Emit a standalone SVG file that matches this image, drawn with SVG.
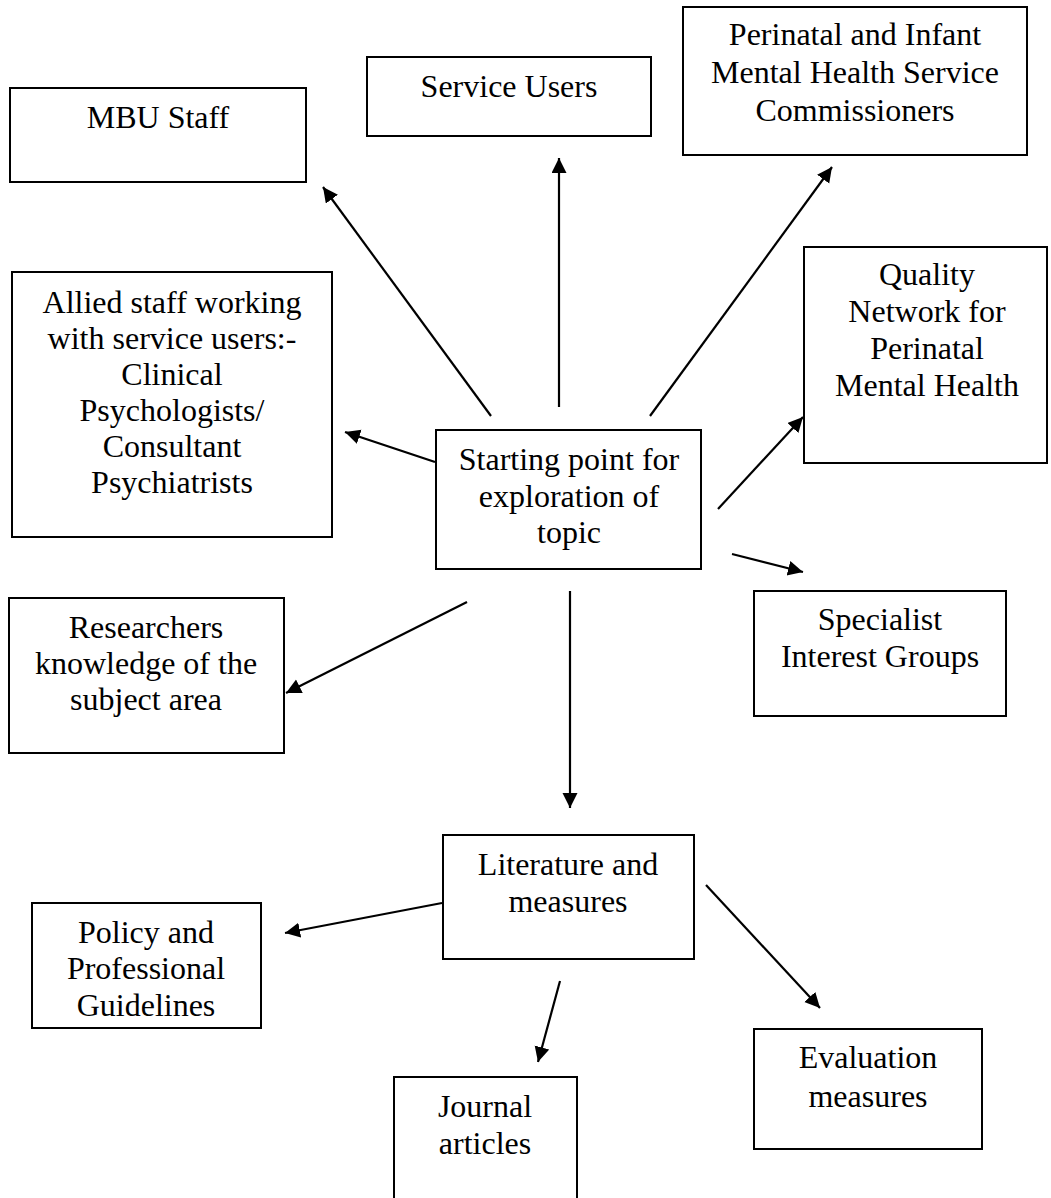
<svg xmlns="http://www.w3.org/2000/svg" width="1051" height="1198" viewBox="0 0 1051 1198">
<style>
.box{fill:#fff;stroke:#000;stroke-width:2}
.t{font-family:"Liberation Serif","Times New Roman",serif;font-size:32px;fill:#000;text-anchor:middle}
.c{stroke:#000;stroke-width:2.2;fill:none;marker-end:url(#ah)}
</style>
<defs>
<marker id="ah" markerUnits="userSpaceOnUse" markerWidth="16" markerHeight="16" refX="15" refY="7.5" orient="auto">
<path d="M0,0 L15,7.5 L0,15 z" fill="#000"/>
</marker>
</defs>
<rect width="1051" height="1198" fill="#fff"/>
<g id="connectors">
<line class="c" x1="491" y1="416" x2="323" y2="187"/>
<line class="c" x1="559" y1="407" x2="559" y2="158"/>
<line class="c" x1="650" y1="416" x2="832" y2="167"/>
<line class="c" x1="435" y1="462" x2="345" y2="432"/>
<line class="c" x1="718" y1="509" x2="803" y2="417"/>
<line class="c" x1="732" y1="554" x2="803" y2="572"/>
<line class="c" x1="467" y1="602" x2="286" y2="693"/>
<line class="c" x1="570" y1="591" x2="570" y2="808"/>
<line class="c" x1="442" y1="903" x2="285" y2="933"/>
<line class="c" x1="706" y1="885" x2="820" y2="1008"/>
<line class="c" x1="560" y1="981" x2="538" y2="1062"/>
</g>
<g id="mbu-staff">
<rect class="box" x="10" y="88" width="296" height="94"/>
<text class="t" x="158" y="128">MBU Staff</text>
</g>
<g id="service-users">
<rect class="box" x="367" y="57" width="284" height="79"/>
<text class="t" x="509" y="97">Service Users</text>
</g>
<g id="commissioners">
<rect class="box" x="683" y="7" width="344" height="148"/>
<text class="t" x="855" y="45">Perinatal and Infant</text>
<text class="t" x="855" y="83">Mental Health Service</text>
<text class="t" x="855" y="121">Commissioners</text>
</g>
<g id="allied-staff">
<rect class="box" x="12" y="272" width="320" height="265"/>
<text class="t" x="172" y="313">Allied staff working</text>
<text class="t" x="172" y="349">with service users:-</text>
<text class="t" x="172" y="385">Clinical</text>
<text class="t" x="172" y="421">Psychologists/</text>
<text class="t" x="172" y="457">Consultant</text>
<text class="t" x="172" y="493">Psychiatrists</text>
</g>
<g id="quality-network">
<rect class="box" x="804" y="247" width="243" height="216"/>
<text class="t" x="927" y="285">Quality</text>
<text class="t" x="927" y="322">Network for</text>
<text class="t" x="927" y="359">Perinatal</text>
<text class="t" x="927" y="396">Mental Health</text>
</g>
<g id="starting-point">
<rect class="box" x="436" y="430" width="265" height="139"/>
<text class="t" x="569" y="470">Starting point for</text>
<text class="t" x="569" y="507">exploration of</text>
<text class="t" x="569" y="543">topic</text>
</g>
<g id="specialist-groups">
<rect class="box" x="754" y="591" width="252" height="125"/>
<text class="t" x="880" y="630">Specialist</text>
<text class="t" x="880" y="667">Interest Groups</text>
</g>
<g id="researchers">
<rect class="box" x="9" y="598" width="275" height="155"/>
<text class="t" x="146" y="638">Researchers</text>
<text class="t" x="146" y="674">knowledge of the</text>
<text class="t" x="146" y="710">subject area</text>
</g>
<g id="literature">
<rect class="box" x="443" y="835" width="251" height="124"/>
<text class="t" x="568" y="875">Literature and</text>
<text class="t" x="568" y="912">measures</text>
</g>
<g id="policy">
<rect class="box" x="32" y="903" width="229" height="125"/>
<text class="t" x="146" y="943">Policy and</text>
<text class="t" x="146" y="979">Professional</text>
<text class="t" x="146" y="1016">Guidelines</text>
</g>
<g id="evaluation">
<rect class="box" x="754" y="1029" width="228" height="120"/>
<text class="t" x="868" y="1068">Evaluation</text>
<text class="t" x="868" y="1107">measures</text>
</g>
<g id="journal">
<rect class="box" x="394" y="1077" width="183" height="140"/>
<text class="t" x="485" y="1117">Journal</text>
<text class="t" x="485" y="1154">articles</text>
</g>
</svg>
